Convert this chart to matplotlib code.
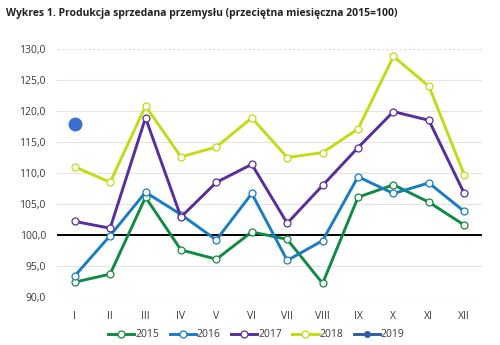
import matplotlib
matplotlib.use('Agg')
import matplotlib.pyplot as plt
from matplotlib.lines import Line2D
import numpy as np

months = ['I', 'II', 'III', 'IV', 'V', 'VI', 'VII', 'VIII', 'IX', 'X', 'XI', 'XII']

y2015 = [92.4, 93.7, 106.1, 97.6, 96.1, 100.5, 99.3, 92.2, 106.1, 108.1, 105.3, 101.6]
y2016 = [93.4, 99.9, 106.9, 103.3, 99.2, 106.7, 95.9, 99.1, 109.4, 106.7, 108.4, 103.8]
y2017 = [102.2, 101.1, 118.9, 102.9, 108.5, 111.4, 101.9, 108.0, 114.1, 119.9, 118.5, 106.7]
y2018 = [111.0, 108.5, 120.8, 112.6, 114.2, 118.9, 112.5, 113.3, 117.1, 128.8, 124.0, 109.7]
y2019 = [117.9]

colors = {'2015': '#138a43', '2016': '#1a7cc1', '2017': '#5a2d9c',
          '2018': '#c2db17', '2019': '#3a6fcf'}

plt.rcParams['font.family'] = ['Open Sans', 'DejaVu Sans']

fig = plt.figure(figsize=(5, 3.45), dpi=100)
ax = fig.add_axes([0.114, 0.139, 0.85, 0.719])

x = np.arange(len(months))
series = [('2015', y2015), ('2016', y2016), ('2017', y2017), ('2018', y2018)]
handles = []
for name, vals in series:
    ln, = ax.plot(x[:len(vals)], vals, color=colors[name], linewidth=2.1, marker='o',
                  markersize=5, markerfacecolor='white', markeredgecolor=colors[name],
                  markeredgewidth=0.9, label=name, zorder=3)
    handles.append(ln)
ax.plot(x[:len(y2019)], y2019, color=colors['2019'], linewidth=2.1, marker='o',
        markersize=9, zorder=4)
handles.append(Line2D([], [], color='#2f5aa8', linewidth=2.1, marker='o',
                      markersize=4, label='2019'))

ax.set_xlim(-0.5, 11.5)
ax.set_ylim(90, 130)
ax.set_yticks(np.arange(90, 131, 5))
ax.set_yticklabels([f'{v:.1f}'.replace('.', ',') for v in np.arange(90, 131, 5)])
ax.set_xticks(x)
ax.set_xticklabels(months)
for v in np.arange(90, 126, 5):
    ax.axhline(v, color='#e3e3e3', linewidth=0.8, zorder=1)
ax.axhline(130, color='#dcdcdc', linewidth=0.8, linestyle=(0, (2, 2)), zorder=1)
ax.axhline(100, color='black', linewidth=1.4, zorder=2)

for s in ax.spines.values():
    s.set_visible(False)
ax.tick_params(axis='both', length=0, labelsize=7.5, labelcolor='#3a3a3a', pad=8)
ax.tick_params(axis='x', pad=10)

fig.text(0.012, 0.962, 'Wykres 1. Produkcja sprzedana przemysłu (przeciętna miesięczna 2015=100)',
         fontsize=7.5, fontweight='bold', color='#222222', va='center', ha='left')

leg = fig.legend(handles=handles, loc='center', bbox_to_anchor=(0.513, 0.03), ncol=5,
                 frameon=False, fontsize=7.5, handlelength=2.5, columnspacing=1.0,
                 handletextpad=0.1)
for t in leg.get_texts():
    t.set_color('#3a3a3a')

fig.savefig('out.png', dpi=100)
